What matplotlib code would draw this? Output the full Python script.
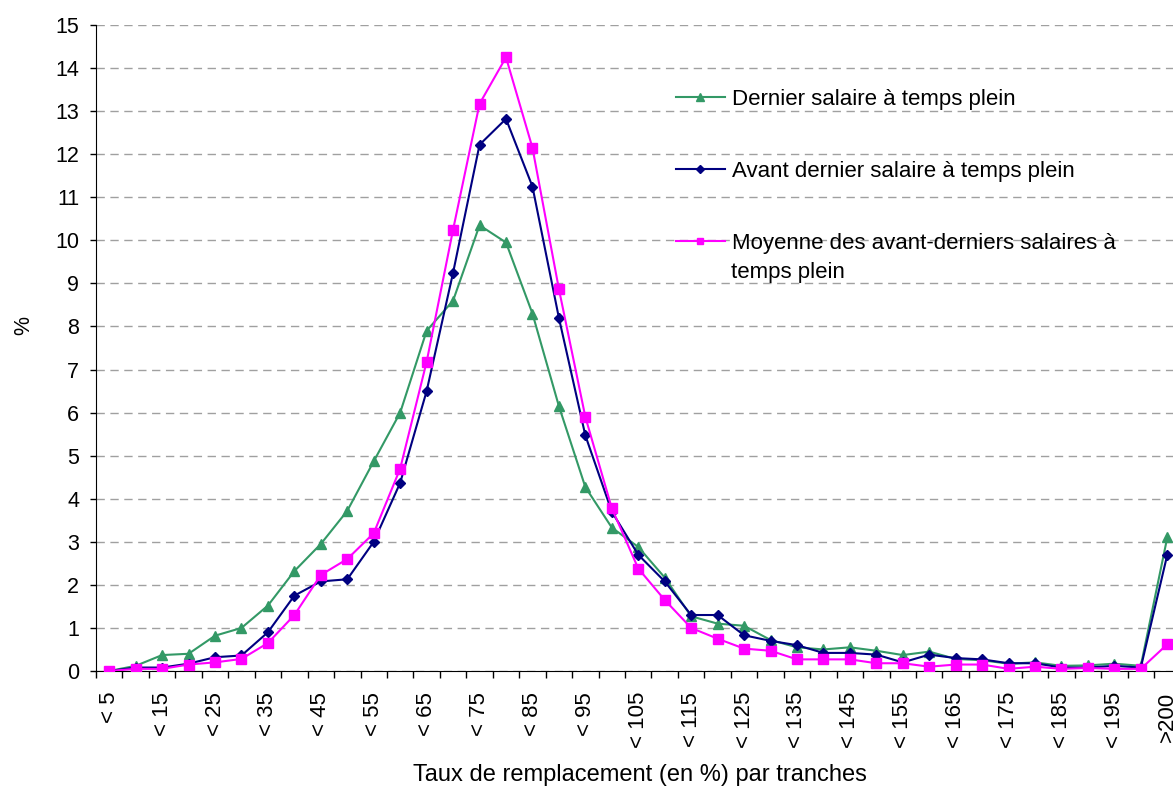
import matplotlib
matplotlib.use("Agg")
import matplotlib.pyplot as plt
import numpy as np

plt.rcParams['font.family'] = ['Liberation Sans', 'DejaVu Sans']

categories = ["< %d" % v for v in range(5, 205, 5)] + [">200"]

dernier = [0, 0.12, 0.37, 0.40, 0.82, 1.0, 1.52, 2.32, 2.95, 3.72,
           4.87, 6.0, 7.9, 8.6, 10.35, 9.95, 8.3, 6.15, 4.27, 3.33,
           2.88, 2.17, 1.27, 1.1, 1.05, 0.72, 0.55, 0.5, 0.55, 0.47,
           0.37, 0.45, 0.28, 0.25, 0.17, 0.2, 0.12, 0.13, 0.17, 0.12,
           3.1]
avant_dernier = [0, 0.08, 0.08, 0.17, 0.32, 0.36, 0.9, 1.75, 2.08, 2.13,
                 3.0, 4.37, 6.5, 9.25, 12.22, 12.82, 11.25, 8.2, 5.47, 3.7,
                 2.7, 2.08, 1.3, 1.3, 0.83, 0.7, 0.6, 0.42, 0.42, 0.38,
                 0.2, 0.38, 0.3, 0.27, 0.18, 0.18, 0.08, 0.08, 0.12, 0.08,
                 2.7]
moyenne = [0, 0.05, 0.05, 0.15, 0.2, 0.28, 0.65, 1.3, 2.23, 2.6,
           3.2, 4.7, 7.18, 10.25, 13.17, 14.25, 12.15, 8.87, 5.9, 3.78,
           2.38, 1.65, 1.0, 0.75, 0.52, 0.47, 0.27, 0.27, 0.27, 0.18,
           0.18, 0.1, 0.15, 0.15, 0.05, 0.1, 0.05, 0.07, 0.05, 0.05,
           0.62]

labels = ["Dernier salaire à temps plein",
          "Avant dernier salaire à temps plein",
          "Moyenne des avant-derniers salaires à"]
label_extra = "temps plein"

W, H = 1173, 787
fig = plt.figure(figsize=(W / 100, H / 100), dpi=100)
left, right, top, bottom = 96, 1180.5, 25, 671
ax = fig.add_axes([left / W, (H - bottom) / H, (right - left) / W, (bottom - top) / H])

x = np.arange(len(categories))
l1, = ax.plot(x, dernier, color='#339966', marker='^', markersize=7.5, lw=1.5, zorder=3)
l2, = ax.plot(x, avant_dernier, color='#000080', marker='D', markersize=5.5, lw=1.5, zorder=4)
l3, = ax.plot(x, moyenne, color='#FF00FF', marker='s', markersize=6.5, lw=1.5, zorder=5)

ax.set_xlim(-0.5, len(categories) - 0.5)
ax.set_ylim(0, 15)
ax.set_yticks(range(0, 16))
ax.yaxis.grid(True, color='#a0a0a0', linestyle=(0, (6, 4)), lw=1)
ax.set_axisbelow(True)

ax.set_xticks(x)
ax.set_xticklabels([c if i % 2 == 0 else "" for i, c in enumerate(categories)],
                   rotation=90, va='top', ha='center', fontsize=16)
ax.set_xticks(np.arange(-0.5, len(categories), 1.0), minor=True)
ax.tick_params(axis='x', which='major', length=0, pad=15)
ax.tick_params(axis='x', which='minor', length=5, width=1, color='black')
ax.tick_params(axis='y', length=4, width=1, labelsize=15.5, pad=8)

for s in ['top', 'right']:
    ax.spines[s].set_visible(False)
ax.spines['left'].set_color('black')
ax.spines['bottom'].set_color('black')

ax.set_ylabel('%', fontsize=15.5)
ax.yaxis.set_label_coords(-62 / (right - left), 0.535)
fig.text(640 / W, 1 - 775 / H, 'Taux de remplacement (en %) par tranches',
         ha='center', va='center', fontsize=17)

leg = fig.legend([l1, l2, l3], labels, loc='upper left',
                 bbox_to_anchor=(656 / W, 1 - 69 / H), frameon=False,
                 fontsize=16, handlelength=2.2, handletextpad=0.3,
                 labelspacing=2.3, markerscale=0.7)
fig.text(731 / W, 1 - 272 / H, label_extra, ha='left', va='center', fontsize=16)

fig.savefig('out.png', dpi=100)
